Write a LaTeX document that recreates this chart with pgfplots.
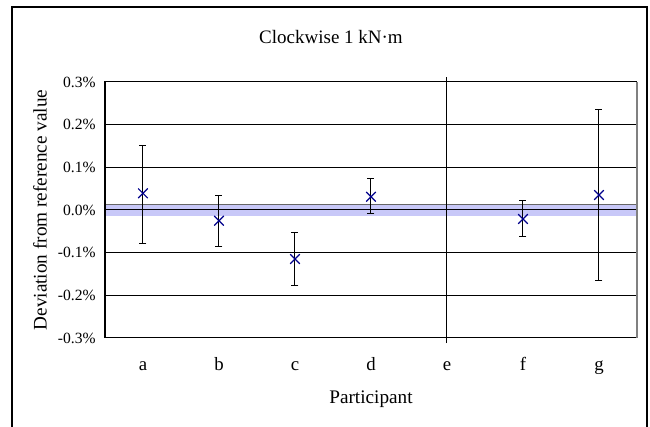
\documentclass[border=0pt]{standalone}
\usepackage{fontspec}
\setmainfont{Liberation Serif}
\usepackage{pgfplots}
\pgfplotsset{compat=1.18}
\usepackage{pgfplotstable}
\definecolor{navyx}{RGB}{0,0,140}
\definecolor{bandblue}{RGB}{200,200,248}
\pgfplotstableread{
x y ep em
0.5 0.039 0.113 0.117
1.5 -0.025 0.058 0.061
2.5 -0.115 0.063 0.062
3.5 0.031 0.042 0.039
5.5 -0.021 0.044 0.040
6.5 0.035 0.201 0.201
}\datatable
\begin{document}
\begin{tikzpicture}
\useasboundingbox (-52.5pt,-44.5pt) rectangle (272.5pt,169pt);
\fill[white] (-52.5pt,-44.5pt) rectangle (272.5pt,169pt);
\draw[black, line width=0.6pt] (-46.5pt,-60pt) rectangle (271pt,165.5pt);
\begin{axis}[
  at={(0,0)}, anchor=south west,
  scale only axis, width=266pt, height=128pt,
  xmin=0, xmax=7, ymin=-0.3, ymax=0.3,
  clip=false,
  axis line style={black, line width=0.5pt},
  xtick={0.5,1.5,2.5,3.5,4.5,5.5,6.5},
  xticklabels={a,b,c,d,e,f,g},
  ytick={-0.3,-0.2,-0.1,0,0.1,0.2,0.3},
  yticklabels={-0.3\%,-0.2\%,-0.1\%,0.0\%,0.1\%,0.2\%,0.3\%},
  major tick length=0pt,
  ymajorgrids, grid style={black, line width=0.5pt},
  yticklabel style={font=\fontsize{7.8}{8}\selectfont, anchor=east, inner sep=0pt, xshift=-4.5pt},
  xticklabel style={font=\fontsize{9.4}{10}\selectfont, anchor=base, inner sep=0pt, yshift=-16.5pt},
  xlabel={Participant},
  ylabel={Deviation from reference value},
  label style={font=\fontsize{9.6}{11}\selectfont},
  xlabel style={at={(axis description cs:0.5,0)}, anchor=base, yshift=-33pt, inner sep=0pt},
  ylabel style={at={(axis description cs:-0.1222,0.5)}, anchor=center, inner sep=0pt},
]
\addplot[fill=bandblue, draw=none, forget plot] coordinates {(0,-0.014) (7,-0.014) (7,0.014) (0,0.014)} -- cycle;
\addplot[draw=gray!80!black, line width=0.5pt, forget plot] coordinates {(0,0.014) (7,0.014)};
\addplot[draw=black, line width=0.5pt, forget plot] coordinates {(0,0) (7,0)};
\addplot[draw=black, line width=0.5pt, forget plot] coordinates {(4.5,-0.312) (4.5,0.312)};
\addplot[only marks, mark=x, mark size=3.4pt, mark options={draw=navyx, line width=0.6pt},
  error bars/.cd, y dir=both, y explicit,
  error bar style={black, line width=0.5pt},
  error mark options={rotate=90, mark size=1.75pt, black, line width=0.5pt}]
  table[x=x, y=y, y error plus=ep, y error minus=em] {\datatable};
\draw[gray, line width=0.6pt] (axis cs:7,-0.3) -- (axis cs:7,0.3);
\draw[black, line width=1pt] (axis cs:0,-0.3) -- (axis cs:0,0.3);
\node[font=\fontsize{9.5}{10}\selectfont, anchor=center] at (113pt,153pt) {Clockwise 1 kN·m};
\end{axis}
\end{tikzpicture}
\end{document}
